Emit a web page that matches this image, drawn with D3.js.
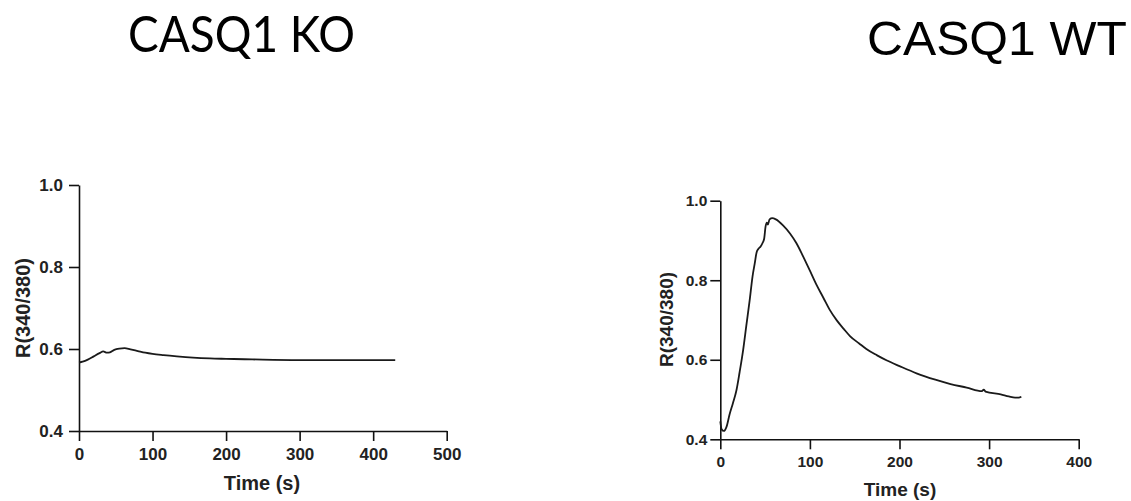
<!DOCTYPE html>
<html lang="en">
<head>
    <meta charset="UTF-8">
    <title>CASQ1 KO vs WT</title>
    <script src="https://d3js.org/d3.v7.min.js"></script>
    <style>
        body { margin: 0; background: #fff; }
        svg { display: block; }
    </style>
</head>
<body>
    <div id="chart"></div>

    <script>
        // CASQ1 KO trace (time in s, ratio 340/380)
        const koTime  = [0, 5, 12, 20, 28, 33, 38, 42, 48, 55, 62, 70, 80, 90, 100, 115, 133, 155, 178, 200, 225, 250, 300, 350, 400, 430];
        const koRatio = [0.567, 0.569, 0.574, 0.582, 0.590, 0.594, 0.591, 0.592, 0.598, 0.601, 0.602, 0.599, 0.595, 0.591, 0.588, 0.585, 0.582, 0.579, 0.577, 0.576, 0.575, 0.574, 0.573, 0.573, 0.573, 0.573];

        // CASQ1 WT trace
        const wtTime  = [0, 1.5, 4, 7, 10.4, 14, 17.9, 21.5, 25.4, 29, 32.8, 36, 38.4, 40.5, 42.2, 45, 47, 49, 50.5, 52, 53, 55, 58, 62, 70, 78, 85, 92, 100, 107, 115, 122, 130, 138, 145, 155, 163, 175, 186, 200, 219, 240, 257, 275, 292, 294, 296, 313, 322, 329, 333, 336];
        const wtRatio = [0.445, 0.425, 0.421, 0.432, 0.463, 0.490, 0.522, 0.568, 0.623, 0.685, 0.750, 0.810, 0.842, 0.870, 0.878, 0.885, 0.893, 0.905, 0.935, 0.945, 0.940, 0.953, 0.956, 0.953, 0.938, 0.917, 0.893, 0.862, 0.824, 0.790, 0.756, 0.726, 0.699, 0.677, 0.659, 0.641, 0.627, 0.611, 0.598, 0.584, 0.566, 0.550, 0.539, 0.530, 0.521, 0.525, 0.520, 0.513, 0.508, 0.505, 0.505, 0.507];

        const koXTicks = [0, 100, 200, 300, 400, 500];
        const wtXTicks = [0, 100, 200, 300, 400];
        const yTicks = [0.4, 0.6, 0.8, 1.0];

        const width = 1131, height = 501;

        const svg = d3.select("#chart")
            .append("svg")
            .attr("width", width)
            .attr("height", height);

        svg.append("rect")
            .attr("width", width)
            .attr("height", height)
            .attr("fill", "#fff");

        // titles
        svg.append("text")
            .attr("x", 128)
            .attr("y", 52)
            .attr("textLength", 227)
            .attr("lengthAdjust", "spacingAndGlyphs")
            .style("font-family", "Lato, 'Noto Sans', sans-serif")
            .style("font-size", "51px")
            .style("fill", "#000")
            .text("CASQ1 KO");

        svg.append("text")
            .attr("x", 867)
            .attr("y", 55)
            .attr("textLength", 260)
            .attr("lengthAdjust", "spacingAndGlyphs")
            .style("font-family", "'Liberation Sans', Arial, sans-serif")
            .style("font-size", "49px")
            .style("fill", "#000")
            .text("CASQ1 WT");

        function drawPanel(cfg) {
            const x = d3.scaleLinear().domain(cfg.xDomain).range(cfg.xRange);
            const y = d3.scaleLinear().domain([0.4, 1.0]).range(cfg.yRange);
            const g = svg.append("g");

            const xAxis = d3.axisBottom(x)
                .tickValues(cfg.xTicks)
                .tickFormat(d3.format("d"))
                .tickSizeInner(10)
                .tickSizeOuter(0)
                .tickPadding(cfg.xPad);

            const yAxis = d3.axisLeft(y)
                .tickValues(yTicks)
                .tickFormat(d3.format(".1f"))
                .tickSizeInner(10)
                .tickSizeOuter(0)
                .tickPadding(cfg.yPad);

            const gx = g.append("g")
                .attr("transform", "translate(0," + cfg.yRange[0] + ")")
                .call(xAxis);
            const gy = g.append("g")
                .attr("transform", "translate(" + cfg.xRange[0] + ",0)")
                .call(yAxis);

            [gx, gy].forEach(a => {
                a.selectAll("path, line")
                    .attr("stroke", "#111")
                    .attr("stroke-width", 1.6);
                a.selectAll("text")
                    .style("font-family", "'Liberation Sans', Arial, sans-serif")
                    .style("font-weight", "bold")
                    .style("font-size", cfg.tickFont + "px")
                    .attr("fill", "#222");
            });

            // axis titles
            g.append("text")
                .attr("x", cfg.xTitle[0])
                .attr("y", cfg.xTitle[1])
                .attr("text-anchor", "middle")
                .style("font-family", "'Liberation Sans', Arial, sans-serif")
                .style("font-weight", "bold")
                .style("font-size", cfg.titleFont + "px")
                .attr("fill", "#222")
                .text("Time (s)");

            g.append("text")
                .attr("transform", "translate(" + cfg.yTitle[0] + "," + cfg.yTitle[1] + ") rotate(-90)")
                .attr("text-anchor", "middle")
                .style("font-family", "'Liberation Sans', Arial, sans-serif")
                .style("font-weight", "bold")
                .style("font-size", cfg.titleFont + "px")
                .attr("fill", "#222")
                .text("R(340/380)");

            const line = d3.line()
                .x((d, i) => x(cfg.t[i]))
                .y(d => y(d))
                .curve(d3.curveMonotoneX);

            g.append("path")
                .attr("d", line(cfg.v))
                .attr("fill", "none")
                .attr("stroke", "#1a1a1a")
                .attr("stroke-width", 1.8);
        }

        drawPanel({
            xDomain: [0, 500], xRange: [79, 446.7], yRange: [431, 185],
            xTicks: koXTicks, xPad: 7, yPad: 6,
            tickFont: 17, titleFont: 20,
            xTitle: [262, 490], yTitle: [30, 308],
            t: koTime, v: koRatio
        });

        drawPanel({
            xDomain: [0, 400], xRange: [720.3, 1078.7], yRange: [439.3, 200.7],
            xTicks: wtXTicks, xPad: 7, yPad: 3,
            tickFont: 15.5, titleFont: 19,
            xTitle: [900, 496], yTitle: [673, 319.5],
            t: wtTime, v: wtRatio
        });
    </script>
</body>
</html>
